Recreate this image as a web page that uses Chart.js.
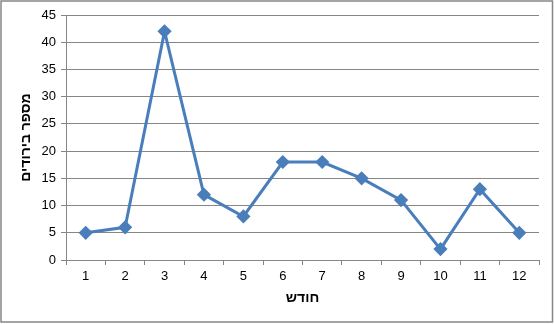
<!DOCTYPE html>
<html>
<head>
<meta charset="utf-8">
<script src="https://cdn.jsdelivr.net/npm/chart.js@4"></script>
<style>
html,body{margin:0;padding:0;background:#fff;}
#wrap{width:555px;height:324px;position:relative;}
</style>
</head>
<body>
<div id="wrap"><canvas id="c" width="555" height="324"></canvas></div>
<script>
const categories = ["1","2","3","4","5","6","7","8","9","10","11","12"];
const values = [5, 6, 42, 12, 8, 18, 18, 15, 11, 2, 13, 5];
const yTitle = "מספר בירודים";
const xTitle = "חודש";

const borderPlugin = {
  id: 'outerBorder',
  beforeDraw(chart) {
    const ctx = chart.ctx;
    ctx.save();
    ctx.fillStyle = '#fff';
    ctx.fillRect(0, 0, chart.width, chart.height);
    ctx.strokeStyle = '#868686';
    ctx.lineWidth = 1.5;
    ctx.strokeRect(1, 1, 551.5, 321);
    ctx.restore();
  }
};

Chart.defaults.font.family = '"Liberation Sans", Arial, sans-serif';
Chart.defaults.color = '#000';

new Chart(document.getElementById('c'), {
  type: 'line',
  data: {
    labels: categories,
    datasets: [{
      data: values,
      borderColor: '#4A7EBB',
      backgroundColor: '#4A7EBB',
      borderWidth: 3,
      pointStyle: 'rectRot',
      pointRadius: 5,
      pointHoverRadius: 5,
      tension: 0,
      fill: false
    }]
  },
  options: {
    responsive: false,
    animation: false,
    events: [],
    layout: { padding: { top: 15, right: 16, left: 0, bottom: 0 } },
    plugins: { legend: { display: false }, tooltip: { enabled: false } },
    scales: {
      x: {
        offset: true,
        grid: { offset: true, drawOnChartArea: false, color: '#868686', tickLength: 5, lineWidth: 1 },
        border: { color: '#868686', width: 1 },
        ticks: { font: { size: 13 }, padding: 4, maxRotation: 0 },
        title: { display: true, text: xTitle, font: { size: 14, weight: 'bold' }, padding: { top: 2, bottom: 17 } },
        afterFit(s) { s.height = 64; }
      },
      y: {
        min: 0, max: 45,
        ticks: { stepSize: 5, font: { size: 13 }, padding: 5 },
        grid: { color: '#868686', tickLength: 5, lineWidth: 1 },
        border: { color: '#868686', width: 1 },
        title: { display: true, text: yTitle, font: { size: 14, weight: 'bold' }, padding: { top: 18, bottom: 4 } },
        afterFit(s) { s.width = 66; }
      }
    }
  },
  plugins: [borderPlugin]
});
</script>
</body>
</html>
